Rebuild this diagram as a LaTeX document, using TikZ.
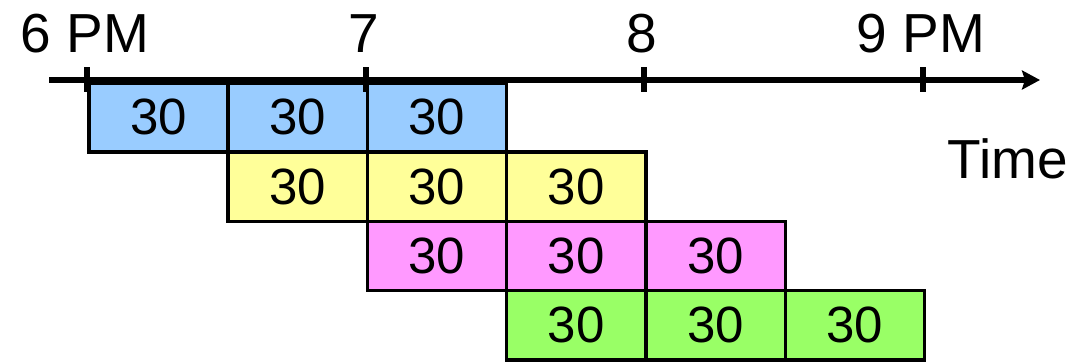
\documentclass[tikz,border=0pt]{standalone}
\usepackage{fontspec}
\setmainfont{Liberation Sans}
\usetikzlibrary{arrows.meta, positioning}

\definecolor{slotblue}{HTML}{99CCFF}
\definecolor{slotyellow}{HTML}{FFFF99}
\definecolor{slotpink}{HTML}{FF99FF}
\definecolor{slotgreen}{HTML}{99FF66}

\tikzset{
  slot/.style={draw, line width=3.5pt, minimum width=139.3pt, minimum height=69.25pt,
    inner sep=0pt, anchor=north west, font=\fontsize{51}{51}\selectfont},
  hourtick/.style={line width=6pt},
  hourlabel/.style={anchor=base, inner sep=0pt, font=\fontsize{55}{55}\selectfont},
}

\begin{document}
\begin{tikzpicture}[x=1pt, y=-1pt, >=Stealth]
    \useasboundingbox (0,0) rectangle (1074,362);

    % Slots
    \foreach \r/\col in {0/slotblue, 1/slotyellow, 2/slotpink, 3/slotgreen} {
        \foreach \c in {0,1,2} {
            \node[slot, fill=\col] (s\r\c) at ({87+(\r+\c)*139.3}, {81+\r*69.25}) {30};
        }
    }

    % Axis
    \coordinate (axisstart) at (49,80);
    \coordinate (axisend) at (1040,80);
    \draw[-{Stealth[length=18pt, width=19pt, inset=3pt]}, line width=6pt] (axisstart) -- (axisend);

    % Hours
    \foreach \h/\lab in {0/6 PM, 1/7, 2/8, 3/9 PM} {
        \draw[hourtick] ({87+2*\h*139.3},67) -- ++(0,25);
        \node[hourlabel] (hour\h) at ({85+2*\h*139.3},52) {\lab};
    }

    \node[hourlabel, anchor=center] (time) at (1008,159) {Time};
\end{tikzpicture}
\end{document}
